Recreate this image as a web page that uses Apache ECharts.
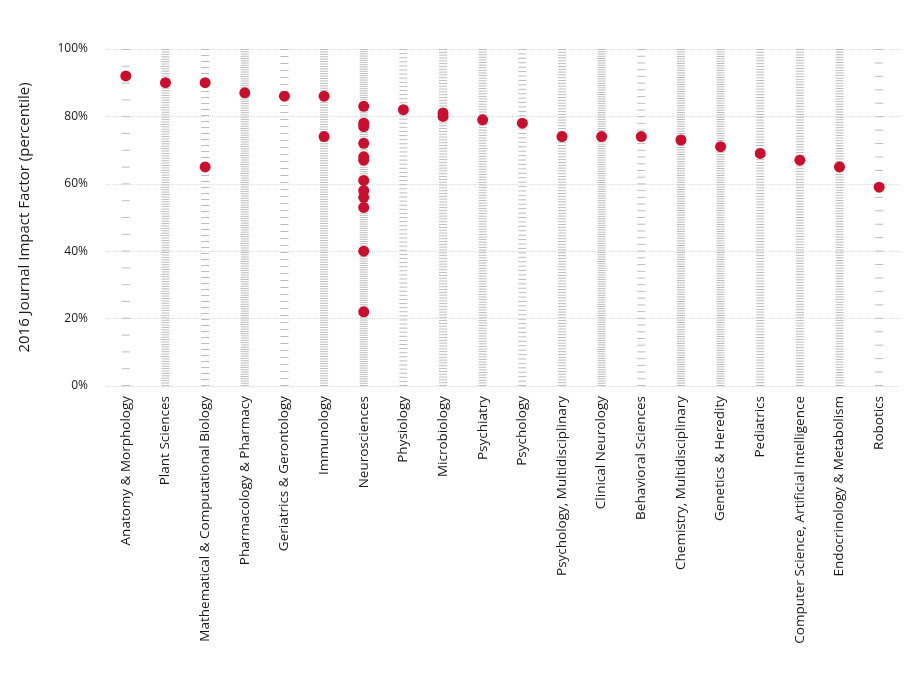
<!DOCTYPE html>
<html>
<head>
<meta charset="utf-8">
<script src="https://cdn.jsdelivr.net/npm/echarts@6/dist/echarts.min.js"></script>
<style>
html,body{margin:0;padding:0;background:#fff;}
#chart{width:912px;height:695px;}
</style>
</head>
<body>
<div id="chart"></div>
<script>
const categories = [
  "Anatomy & Morphology", "Plant Sciences", "Mathematical & Computational Biology",
  "Pharmacology & Pharmacy", "Geriatrics & Gerontology", "Immunology", "Neurosciences",
  "Physiology", "Microbiology", "Psychiatry", "Psychology", "Psychology, Multidisciplinary",
  "Clinical Neurology", "Behavioral Sciences", "Chemistry, Multidisciplinary",
  "Genetics & Heredity", "Pediatrics", "Computer Science, Artificial Intelligence",
  "Endocrinology & Metabolism", "Robotics"
];
// number of journals ranked in each category (gray dashes), estimated from the dash density
const journalCounts = [21, 140, 57, 150, 49, 140, 155, 83, 120, 130, 77, 120, 150, 51, 145, 145, 120, 125, 130, 26];
// highlighted journals' percentile per category (red dots)
const highlightValues = [
  [92], [90], [90, 65], [87], [86], [86, 74],
  [83, 78, 77, 72, 68, 67, 61, 58, 56, 53, 40, 22],
  [82], [81, 80], [79], [78], [74], [74], [74], [73], [71], [69], [67], [65], [59]
];
const yTicks = [0, 20, 40, 60, 80, 100];

const scatterData = [];
highlightValues.forEach((vals, i) => vals.forEach(v => scatterData.push([i, v])));

const chart = echarts.init(document.getElementById('chart'));
chart.setOption({
  animation: false,
  grid: { left: 106, right: 13, top: 49, bottom: 309 },
  xAxis: {
    type: 'category',
    data: categories,
    axisLine: { show: false },
    axisTick: { show: false },
    axisLabel: {
      rotate: 90, interval: 0, margin: 10,
      fontFamily: 'Open Sans', fontSize: 13.5, color: '#1a1a1a'
    }
  },
  yAxis: {
    type: 'value', min: 0, max: 100, interval: 20,
    name: '2016 Journal Impact Factor (percentile)',
    nameLocation: 'middle', nameGap: 74,
    nameTextStyle: { fontFamily: 'Open Sans', fontSize: 15, color: '#1a1a1a' },
    axisLine: { show: false },
    axisTick: { show: false },
    axisLabel: {
      margin: 18, fontFamily: 'Open Sans', fontSize: 12, color: '#1a1a1a',
      formatter: v => yTicks.includes(v) ? v + '%' : ''
    },
    splitLine: { lineStyle: { type: 'dotted', color: '#dcdcdc', width: 1 } }
  },
  series: [
    {
      type: 'pictorialBar',
      data: journalCounts.map(n => ({ value: 100, symbolRepeat: n })),
      symbol: 'rect',
      symbolSize: [8, 1],
      barWidth: 8,
      itemStyle: { color: '#bdbdbd' },
      z: 2,
      silent: true
    },
    {
      type: 'scatter',
      data: scatterData,
      symbolSize: 11,
      itemStyle: { color: '#c8102e', opacity: 1 },
      z: 5
    }
  ]
});
</script>
</body>
</html>
